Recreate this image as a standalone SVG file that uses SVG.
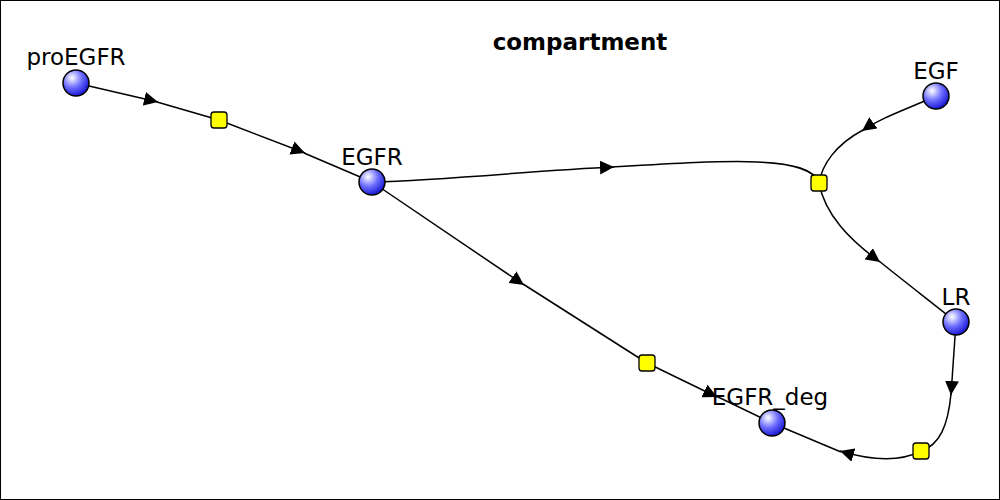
<svg xmlns="http://www.w3.org/2000/svg" width="1000" height="500" viewBox="0 0 1000 500">
<defs>
<radialGradient id="ball" cx="0.35" cy="0.3" r="0.75">
<stop offset="0" stop-color="#ffffff"/><stop offset="0.5" stop-color="#6f6fff"/><stop offset="1" stop-color="#1010d0"/>
</radialGradient>
<marker id="arr" viewBox="0 0 10 10" refX="10" refY="5" markerWidth="14" markerHeight="14" markerUnits="userSpaceOnUse" orient="auto">
<path d="M0,0 L10,5 L0,10 z" fill="#000"/>
</marker>
</defs>
<style>
.c{fill:none;stroke:#000;stroke-width:1.5}
.r{fill:#ffff00;stroke:#000;stroke-width:1.3}
.s{fill:url(#ball);stroke:#000;stroke-width:1.5}
text{font-family:"DejaVu Sans",sans-serif;font-size:23px;fill:#000}
</style>
<rect x="0.5" y="0.5" width="999" height="499" fill="#fff" stroke="#000"/>
<text x="580" y="50" text-anchor="middle" font-weight="bold" font-size="22">compartment</text>
<g id="connectors">
<path class="c" d="M76,83 L158,102" marker-end="url(#arr)"/><path class="c" d="M157,102 L219,120"/>
<path class="c" d="M219,120 L305,153" marker-end="url(#arr)"/><path class="c" d="M304,153 L372,182"/>
<path class="c" d="M372,182 C450,180 540,170 614,167" marker-end="url(#arr)"/><path class="c" d="M613,167 C730,160 810,155 819,183"/>
<path class="c" d="M936,96 C905,110 880,118 862,131" marker-end="url(#arr)"/><path class="c" d="M863,130 C835,145 822,165 819,183"/>
<path class="c" d="M819,183 C825,215 850,240 880,262" marker-end="url(#arr)"/><path class="c" d="M879,261 C905,282 935,305 956,322"/>
<path class="c" d="M372,182 L524,285" marker-end="url(#arr)"/><path class="c" d="M523,284 L647,363"/>
<path class="c" d="M647,363 L717,397" marker-end="url(#arr)"/><path class="c" d="M716,396 L772,423"/>
<path class="c" d="M956,322 L951,395" marker-end="url(#arr)"/><path class="c" d="M951,394 C948,425 940,445 921,451"/>
<path class="c" d="M921,451 C900,462 870,460 840,451" marker-end="url(#arr)"/><path class="c" d="M841,452 L772,423"/>
</g>
<g id="r1"><rect class="r" x="211" y="112" width="16" height="16" rx="3"/></g>
<g id="r2"><rect class="r" x="811" y="175" width="16" height="16" rx="3"/></g>
<g id="r3"><rect class="r" x="639" y="355" width="16" height="16" rx="3"/></g>
<g id="r4"><rect class="r" x="913" y="443" width="16" height="16" rx="3"/></g>
<g id="proEGFR"><circle class="s" cx="76" cy="83" r="13"/><text x="76" y="65" text-anchor="middle">proEGFR</text></g>
<g id="EGFR"><circle class="s" cx="372" cy="182" r="13"/><text x="372" y="165" text-anchor="middle">EGFR</text></g>
<g id="EGF"><circle class="s" cx="936" cy="96" r="13"/><text x="936" y="79" text-anchor="middle">EGF</text></g>
<g id="LR"><circle class="s" cx="956" cy="322" r="13"/><text x="956" y="305" text-anchor="middle">LR</text></g>
<g id="EGFR_deg"><circle class="s" cx="772" cy="423" r="13"/><text x="770" y="405" text-anchor="middle">EGFR_deg</text></g>
</svg>
